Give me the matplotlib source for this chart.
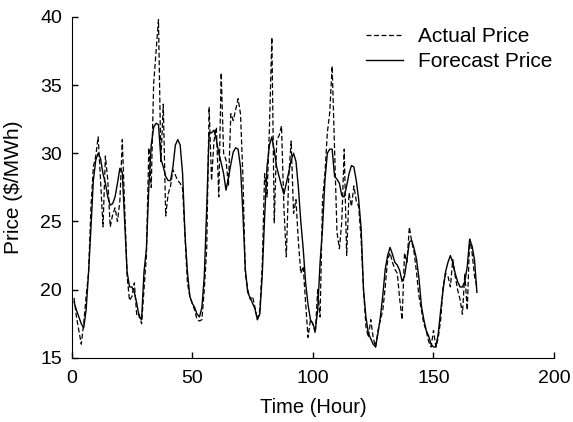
import matplotlib.pyplot as plt
import numpy as np

plt.rcParams['font.family'] = ['Liberation Sans', 'DejaVu Sans']

hours = np.arange(1, 169)

actual_price = [
    19.4, 18.0, 17.0, 16.0, 17.5, 19.5, 21.2, 26.0, 29.0, 29.8, 31.2, 28.0,
    24.6, 29.8, 28.0, 24.6, 25.5, 26.0, 25.0, 26.5, 31.0, 26.0, 21.0, 19.2,
    19.5, 20.5, 18.1, 18.2, 17.5, 20.0, 22.5, 30.4, 27.5, 35.1, 37.5, 39.8,
    29.4, 33.6, 25.4, 27.0, 27.6, 28.8, 28.4, 28.0, 27.8, 27.4, 24.0, 20.5,
    19.5, 19.0, 18.5, 17.8, 17.7, 17.8, 20.0, 23.0, 33.4, 28.0, 30.9, 31.9,
    26.8, 35.9, 30.0, 29.5, 27.6, 32.9, 32.4, 33.2, 34.0, 32.9, 28.3, 21.2,
    20.0, 19.3, 19.5, 18.7, 17.8, 18.5, 21.7, 28.5, 26.8, 31.9, 38.5, 24.9,
    30.9, 31.3, 32.0, 26.0, 22.4, 28.3, 30.9, 25.6, 26.6, 23.5, 21.2, 21.7,
    19.0, 16.5, 17.8, 17.5, 16.8, 20.0, 18.0, 26.6, 28.5, 31.5, 33.0, 36.4,
    30.3, 24.2, 23.0, 25.0, 30.3, 22.5, 27.1, 26.1, 27.6, 26.5, 26.1, 23.7,
    20.0, 17.3, 16.5, 17.8, 16.5, 15.8, 17.0, 17.8, 18.5, 20.2, 22.2, 22.7,
    22.0, 21.5, 21.2, 19.3, 17.8, 22.7, 22.0, 24.6, 23.5, 22.7, 21.2, 19.5,
    18.5, 17.5, 17.0, 16.2, 15.8, 17.0, 15.8, 16.5, 17.8, 20.2, 21.2, 21.0,
    20.2, 22.2, 21.0, 20.0, 19.3, 18.2, 21.2, 18.5, 23.7, 22.7, 21.0, 20.2,
]

forecast_price = [
    19.1, 18.5, 18.0, 17.5, 17.2, 18.5, 21.2, 24.5, 28.0, 29.5, 30.0, 29.6,
    28.5, 27.8, 26.8, 26.2, 26.3, 26.8, 27.8, 28.9, 28.6, 25.0, 21.3, 20.2,
    20.2, 19.8, 19.0, 18.0, 17.8, 21.3, 23.0, 27.5, 30.6, 31.9, 32.2, 32.1,
    29.6, 29.0, 28.3, 28.0, 28.0, 29.0, 30.6, 31.0, 30.6, 28.5, 24.0, 21.3,
    19.5, 19.0, 18.7, 18.2, 18.0, 18.7, 21.0, 26.0, 31.5, 31.5, 31.7, 31.0,
    30.0, 29.3, 28.5, 27.3, 28.2, 29.2, 30.1, 30.4, 30.3, 29.0, 25.6, 21.5,
    19.8, 19.4, 19.0, 18.6, 17.8, 18.2, 21.0, 25.3, 29.0, 30.6, 31.2, 30.2,
    29.0, 28.3, 27.6, 27.0, 27.8, 28.6, 29.5, 30.0, 29.4, 27.5, 25.0, 23.0,
    20.5, 18.9, 17.8, 17.5, 17.0, 18.5, 22.0, 24.5, 28.0, 30.0, 30.3, 30.3,
    28.3, 28.1, 27.8, 26.9, 26.8, 27.6, 28.5, 29.1, 29.0, 28.0, 26.6, 24.5,
    20.0, 18.0, 16.8, 16.4, 16.0, 15.8, 16.8, 18.0, 19.6, 21.5, 22.5, 23.1,
    22.6, 22.0, 21.8, 21.4, 20.6, 21.0, 22.2, 23.5, 23.6, 23.0, 22.2, 20.8,
    18.8, 17.8, 17.0, 16.6, 16.0, 15.8, 15.8, 16.8, 18.5, 20.0, 21.3, 22.0,
    22.5, 22.0, 21.2, 20.6, 20.2, 20.2, 20.6, 21.7, 23.7, 23.2, 22.2, 19.8,
]

fig = plt.figure(figsize=(5.73, 4.22), dpi=100)
ax = fig.add_axes([0.125, 0.152, 0.842, 0.808])

ax.plot(hours, actual_price, color="black", linestyle=(0, (4, 2)),
        linewidth=0.9, label="Actual Price")
ax.plot(hours, forecast_price, color="black", linestyle="-",
        linewidth=1.0, label="Forecast Price")

ax.set_xlim(0, 200)
ax.set_ylim(15, 40)
ax.set_xticks([0, 50, 100, 150, 200])
ax.set_yticks([15, 20, 25, 30, 35, 40])
ax.tick_params(direction="in", length=4, labelsize=14, width=1)
ax.tick_params(axis="x", pad=9)
ax.tick_params(axis="y", pad=7)

ax.spines["top"].set_visible(False)
ax.spines["right"].set_visible(False)

ax.set_xlabel("Time (Hour)", fontsize=14.5, labelpad=8)
ax.set_ylabel("Price ($/MWh)", fontsize=15)
ax.yaxis.set_label_coords(-0.1, 0.5)

ax.legend(loc="upper right", frameon=False, fontsize=15,
          handlelength=1.8, handletextpad=0.7, labelspacing=0.3,
          bbox_to_anchor=(1.035, 1.025))

plt.savefig("out.png", dpi=100)
